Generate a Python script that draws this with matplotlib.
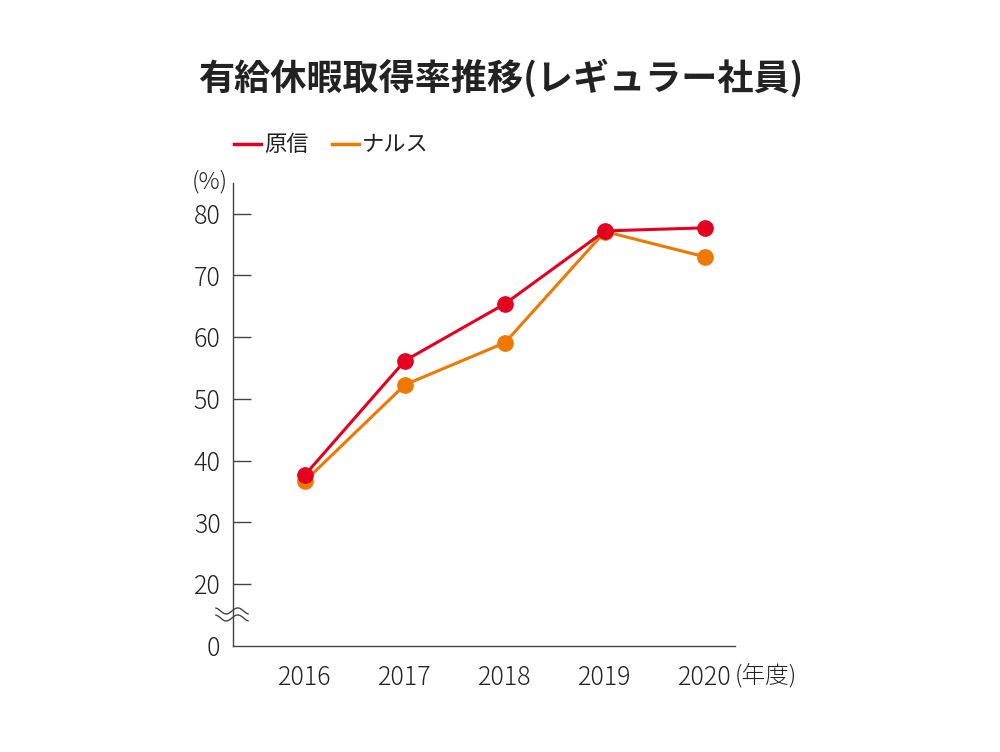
import numpy as np
from matplotlib import pyplot as plt

plt.rcParams['font.family'] = ['Noto Sans CJK JP', 'DejaVu Sans']

years = [2016, 2017, 2018, 2019, 2020]
haraishin = [37.7, 56.2, 65.4, 77.2, 77.7]
narusu = [36.7, 52.3, 59.1, 77.1, 73.0]
tick_values = [10, 20, 30, 40, 50, 60, 70, 80]
tick_labels = ['0', '20', '30', '40', '50', '60', '70', '80']

red = '#e50020'
orange = '#ef7800'
txt = '#222222'

fig = plt.figure(figsize=(10, 7.52), dpi=100)
ax = fig.add_axes([0.233, 0.141, 0.502, 0.616])

ax.plot(years, haraishin, color=red, lw=2.2, marker='o', ms=11, zorder=3)
ax.plot(years, narusu, color=orange, lw=2.2, marker='o', ms=11, zorder=2)

ax.set_xlim(2015.28, 2020.3)
ax.set_ylim(10, 85)
ax.set_yticks(tick_values)
ax.set_yticklabels(tick_labels, fontsize=18, color=txt, fontweight='light')
ax.set_xticks(years)
ax.set_xticklabels([str(y) for y in years], fontsize=18, color=txt, fontweight='light')
ax.tick_params(axis='y', direction='in', length=13, width=1, color='#444444', pad=9)
ax.tick_params(axis='x', length=0, pad=13)
ax.yaxis.get_major_ticks()[0].tick1line.set_visible(False)
for s in ['top', 'right']:
    ax.spines[s].set_visible(False)
for s in ['left', 'bottom']:
    ax.spines[s].set_color('#444444')
    ax.spines[s].set_linewidth(1)

# axis break mark
t = np.linspace(-1, 1, 60)
for yc in (0.0756, 0.0605):
    ax.plot(-0.002 + 0.032 * t, yc + 0.0065 * np.sin(np.pi * t * 1.4),
            transform=ax.transAxes, color='#444444', lw=1, clip_on=False)

fig.text(0.501, 0.896, '有給休暇取得率推移(レギュラー社員)', ha='center', va='center',
         fontsize=26, fontweight='bold', color=txt)
fig.text(0.21, 0.758, '(%)', ha='center', va='center', fontsize=17, color=txt, fontweight='light')
fig.text(0.735, 0.101, '(年度)', ha='left', va='center', fontsize=17, color=txt, fontweight='light')

# legend
fig.lines.append(plt.Line2D([0.234, 0.261], [0.809, 0.809], color=red, lw=2.5, transform=fig.transFigure))
fig.text(0.264, 0.808, '原信', ha='left', va='center', fontsize=16, color=txt)
fig.lines.append(plt.Line2D([0.332, 0.359], [0.809, 0.809], color=orange, lw=2.5, transform=fig.transFigure))
fig.text(0.362, 0.808, 'ナルス', ha='left', va='center', fontsize=16, color=txt)

fig.savefig('out.png', dpi=100)
